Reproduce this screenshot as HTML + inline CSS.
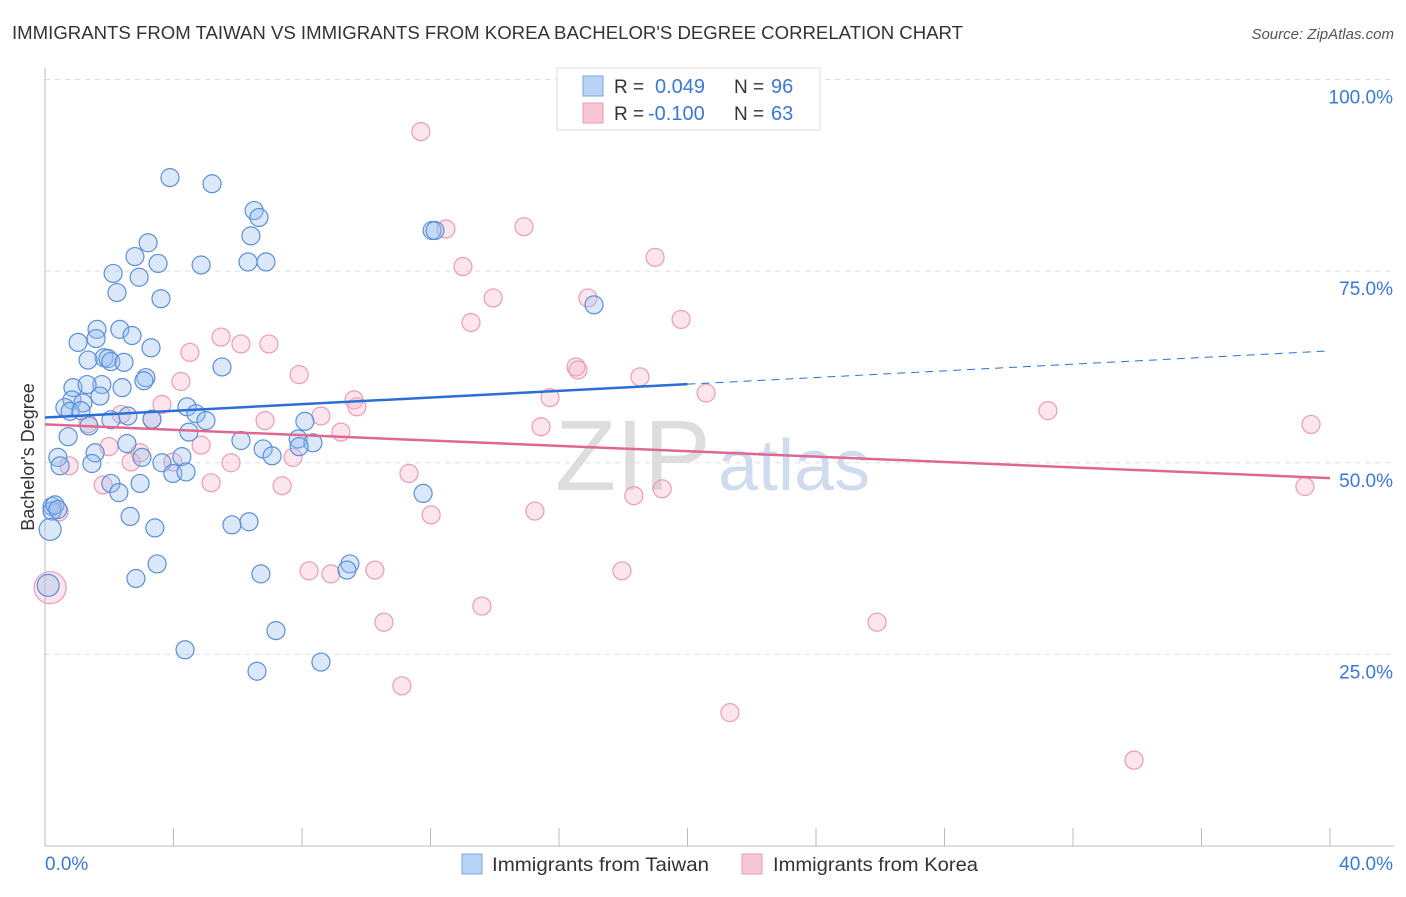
<!DOCTYPE html>
<html><head><meta charset="utf-8"><style>
body{margin:0;background:#fff;font-family:"Liberation Sans",sans-serif;}
svg text{font-family:"Liberation Sans",sans-serif;}
</style></head><body>
<svg width="1406" height="892" viewBox="0 0 1406 892" xmlns="http://www.w3.org/2000/svg">
<text x="12" y="39" font-size="18.5" fill="#333" textLength="951" lengthAdjust="spacingAndGlyphs">IMMIGRANTS FROM TAIWAN VS IMMIGRANTS FROM KOREA BACHELOR'S DEGREE CORRELATION CHART</text>
<text x="1394" y="39" font-size="15" fill="#555" text-anchor="end" font-style="italic">Source: ZipAtlas.com</text>
<g id="grid"></g>
<text x="555" y="490" font-size="100" fill="#ddd" font-family="Liberation Serif">ZIP</text>
<text x="718" y="490" font-size="72" fill="#cfdcf0">atlas</text>
<g id="pts"></g>
<g id="trend"></g>
<text transform="translate(34,457) rotate(-90)" font-size="18" fill="#333" text-anchor="middle">Bachelor's Degree</text>
<g>
<rect x="557" y="68" width="263" height="62" fill="#fff" stroke="#ddd"/>
<rect x="583" y="76" width="20" height="20" fill="#b8d3f5" stroke="#7aa7e0"/>
<rect x="583" y="103" width="20" height="20" fill="#f9c6d4" stroke="#eb9bb4"/>
<text x="614" y="93" font-size="19" fill="#333">R = </text><text x="655" y="93" font-size="20" fill="#3a78d8">0.049</text>
<text x="734" y="93" font-size="19" fill="#333">N = </text><text x="771" y="93" font-size="20" fill="#3a78d8">96</text>
<text x="614" y="120" font-size="19" fill="#333">R = </text><text x="648" y="120" font-size="20" fill="#3a78d8">-0.100</text>
<text x="734" y="120" font-size="19" fill="#333">N = </text><text x="771" y="120" font-size="20" fill="#3a78d8">63</text>
</g>
<g>
<rect x="462" y="854" width="20" height="20" fill="#b8d3f5" stroke="#7aa7e0"/>
<text x="492" y="871" font-size="19.5" fill="#333" textLength="217" lengthAdjust="spacingAndGlyphs">Immigrants from Taiwan</text>
<rect x="742" y="854" width="20" height="20" fill="#f9c6d4" stroke="#eb9bb4"/>
<text x="773" y="871" font-size="19.5" fill="#333" textLength="205" lengthAdjust="spacingAndGlyphs">Immigrants from Korea</text>
</g>
</svg>
<script>
const yTicks=[100,75,50,25];
const yTickLabels=["100.0%","75.0%","50.0%","25.0%"];
const xTickCount=10;
const xLabels=["0.0%","40.0%"];
const taiwanX=[3.89,5.20,6.51,6.66,6.41,12.05,12.14,3.21,2.80,3.52,4.86,6.32,6.88,2.12,2.93,2.24,3.61,17.09,1.62,2.33,2.71,1.03,1.59,3.30,1.84,1.34,1.96,2.05,2.46,5.51,3.14,3.08,0.87,1.77,1.31,2.40,0.84,1.71,1.18,0.62,0.78,1.12,4.42,4.70,5.01,8.09,2.05,2.58,3.33,1.37,0.72,4.48,6.10,2.55,1.56,6.79,7.88,8.34,7.91,7.07,0.40,0.47,1.46,3.02,3.64,4.26,3.98,4.39,2.05,2.96,2.30,11.77,0.22,0.22,2.65,3.42,5.82,6.35,0.16,3.49,9.49,9.40,2.83,6.72,7.19,4.36,8.59,6.60,0.31,0.40,0.1];
const taiwanY=[87.2,86.4,82.9,82.0,79.6,80.3,80.3,78.7,76.9,76.0,75.8,76.2,76.2,74.7,74.2,72.2,71.4,70.6,67.4,67.4,66.6,65.7,66.2,65.0,63.7,63.4,63.6,63.2,63.1,62.5,61.1,60.7,59.8,60.2,60.2,59.8,58.2,58.7,57.8,57.2,56.7,56.8,57.3,56.4,55.5,55.4,55.6,56.1,55.7,54.8,53.4,54.0,52.9,52.5,51.3,51.8,53.1,52.6,52.1,50.9,50.7,49.6,49.9,50.7,50.0,50.8,48.6,48.8,47.3,47.3,46.1,46.0,44.3,43.7,43.0,41.5,41.9,42.3,41.3,36.8,36.8,36.0,34.9,35.5,28.1,25.6,24.0,22.8,44.5,43.9,34.0];
const koreaX=[11.70,12.48,14.91,13.01,18.99,13.95,16.90,13.26,19.80,5.48,6.10,6.97,4.51,4.23,7.91,16.53,16.59,18.52,20.58,9.62,9.71,3.64,2.37,3.33,6.85,8.59,9.21,15.72,31.22,39.41,15.44,1.34,4.86,1.99,2.96,2.68,7.72,0.75,3.98,5.79,11.33,1.81,5.17,7.38,19.21,18.33,12.02,15.25,0.44,39.22,8.22,8.90,10.27,17.96,13.60,10.55,25.90,11.11,21.32,33.90,0.16];
const koreaY=[93.2,80.5,80.8,75.6,76.8,71.5,71.5,68.3,68.7,66.4,65.5,65.5,64.4,60.6,61.5,62.5,62.1,61.2,59.1,58.2,57.3,57.6,56.3,55.6,55.5,56.1,54.0,58.5,56.8,55.0,54.7,55.1,52.3,52.1,51.3,50.1,50.7,49.6,50.1,50.0,48.6,47.1,47.4,47.0,46.6,45.7,43.2,43.7,43.6,46.9,35.9,35.5,36.0,35.9,31.3,29.2,29.2,20.9,17.4,11.2,33.7];
const taiwanTrend=[55.9,64.6];
const koreaTrend=[55.0,48.0];
const taiwanSolidEnd=20;
const X0=45,X1=1330,Y0=846,Y100=79.5;
const sx=v=>X0+(X1-X0)*v/40;
const sy=v=>Y0-(Y0-Y100)*v/100;
const NS="http://www.w3.org/2000/svg";
function mk(tag,attrs,parent){const e=document.createElementNS(NS,tag);for(const k in attrs)e.setAttribute(k,attrs[k]);parent.appendChild(e);return e;}
const grid=document.getElementById('grid');
yTicks.forEach((t,i)=>{
 const l=mk('line',{x1:X0,x2:1394,y1:sy(t),y2:sy(t),stroke:'#ddd','stroke-dasharray':'5,5'},grid);
 
 
 const tx=mk('text',{x:1393,y:sy(t)+24,'font-size':19,fill:'#3a78d8','text-anchor':'end'},grid);
 tx.textContent=yTickLabels[i];
 
 
});
const ax=mk('line',{x1:X0,x2:X0,y1:68,y2:Y0,stroke:'#bbb'},grid);


const bx=mk('line',{x1:X0,x2:1394,y1:Y0,y2:Y0,stroke:'#bbb'},grid);


for(let i=0;i<=xTickCount;i++){
 const x=sx(40*i/xTickCount);
 const t=mk('line',{x1:x,x2:x,y1:828,y2:Y0,stroke:'#bbb'},grid);
 
 
}
const xl0=mk('text',{x:45,y:870,'font-size':19,fill:'#3a78d8'},grid);xl0.textContent=xLabels[0];


const xl1=mk('text',{x:1393,y:870,'font-size':19,fill:'#3a78d8','text-anchor':'end'},grid);xl1.textContent=xLabels[1];


const pts=document.getElementById('pts');
koreaX.forEach((x,i)=>{
 const c=mk('circle',{cx:sx(x),cy:sy(koreaY[i]),r:(i==koreaX.length-1?16:9),fill:'rgba(244,170,194,0.3)',stroke:'#eb9bb4','stroke-width':1.2},pts);
 
 
});
taiwanX.forEach((x,i)=>{
 const big=(i==taiwanX.length-1||(taiwanX[i]<0.2&&taiwanY[i]>40&&taiwanY[i]<42));
 const c=mk('circle',{cx:sx(x),cy:sy(taiwanY[i]),r:big?11:9,fill:'rgba(150,190,240,0.35)',stroke:'#5b8fd8','stroke-width':1.2},pts);
 
 
});
const tr=document.getElementById('trend');
const ty=x=>taiwanTrend[0]+(taiwanTrend[1]-taiwanTrend[0])*x/40;
const l1=mk('line',{x1:sx(0),y1:sy(ty(0)),x2:sx(taiwanSolidEnd),y2:sy(ty(taiwanSolidEnd)),stroke:'#2a6fd6','stroke-width':2.5},tr);


const l2=mk('line',{x1:sx(taiwanSolidEnd),y1:sy(ty(taiwanSolidEnd)),x2:sx(40),y2:sy(ty(40)),stroke:'#2a6fd6','stroke-width':1,'stroke-dasharray':'8,6'},tr);


const l3=mk('line',{x1:sx(0),y1:sy(koreaTrend[0]),x2:sx(40),y2:sy(koreaTrend[1]),stroke:'#e06890','stroke-width':2.5},tr);


</script>
</body></html>
